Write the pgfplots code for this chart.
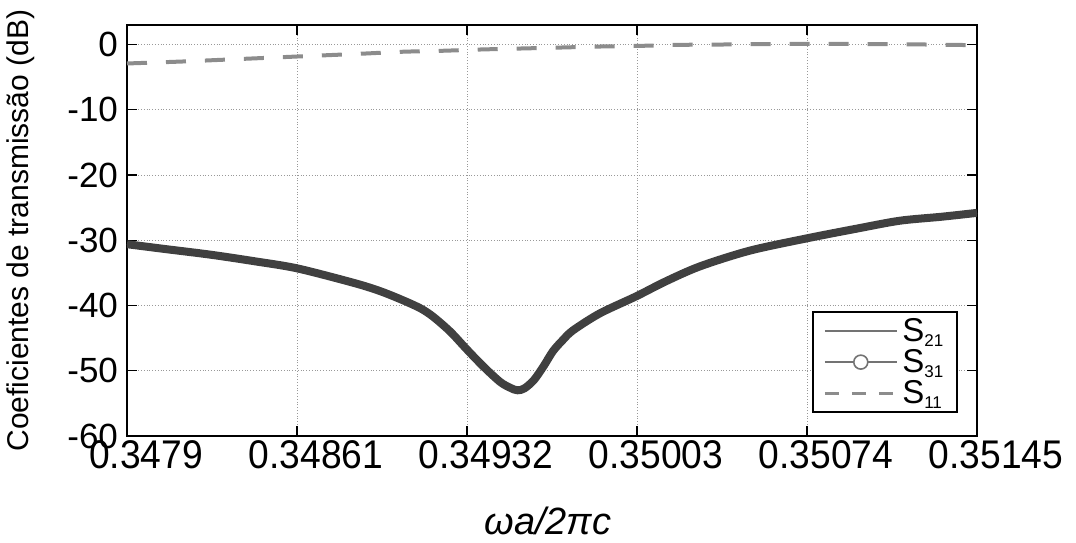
\documentclass[border=0pt]{standalone}
\usepackage{pgfplots}
\pgfplotsset{compat=1.18}
\usepackage{fontspec}
\setmainfont{Liberation Sans}
\newfontfamily\xtickfont[FakeStretch=0.93]{Liberation Sans}

\definecolor{curvecol}{gray}{0.25}
\definecolor{legcol}{gray}{0.45}
\definecolor{s11col}{gray}{0.55}

\newcommand{\sub}[1]{\raisebox{-0.3ex}{\fontsize{8.5}{9}\selectfont #1}}

\pgfplotstableread{
x y
0.347900 -30.6
0.348050 -31.3
0.348247 -32.2
0.348430 -33.2
0.348610 -34.3
0.348844 -36.5
0.348950 -37.7
0.349040 -39.0
0.349124 -40.4
0.349178 -41.7
0.349250 -44.0
0.349316 -46.6
0.349387 -49.3
0.349458 -51.7
0.349500 -52.6
0.349530 -53.0
0.349560 -52.7
0.349600 -51.4
0.349640 -49.3
0.349679 -47.0
0.349720 -45.3
0.349763 -43.8
0.349875 -41.2
0.350026 -38.6
0.350150 -36.3
0.350293 -34.0
0.350500 -31.6
0.350740 -29.7
0.350950 -28.2
0.351128 -27.0
0.351300 -26.4
0.351450 -25.8
}\stwoone

\pgfplotstableread{
x y
0.347900 -2.9
0.348130 -2.6
0.348318 -2.3
0.348506 -2.0
0.348693 -1.7
0.348881 -1.4
0.349053 -1.1
0.349220 -0.95
0.349383 -0.75
0.349550 -0.6
0.349717 -0.45
0.349875 -0.3
0.350042 -0.2
0.350201 -0.05
0.350364 0.0
0.350710 0.1
0.351128 0.05
0.351450 -0.1
}\soneone

\begin{document}
\begin{tikzpicture}
\begin{axis}[
    scale only axis,
    width=425pt, height=205.5pt,
    xmin=0.3479, xmax=0.35145,
    ymin=-60, ymax=3,
    xtick={0.3479,0.34861,0.34932,0.35003,0.35074,0.35145},
    xticklabels={0.3479,0.34861,0.34932,0.35003,0.35074,0.35145},
    ytick={-60,-50,-40,-30,-20,-10,0},
    yticklabels={-60,-50,-40,-30,-20,-10,0},
    scaled x ticks=false,
    tick align=inside,
    major tick length=5pt,
    tick style={black, line width=0.6pt},
    axis line style={black, line width=0.8pt},
    yticklabel style={font=\fontsize{17.5}{19}\selectfont, xshift=-1pt},
    xticklabel style={font=\xtickfont\fontsize{20}{22}\selectfont, yshift=1pt, xshift=9.5pt},
    xmajorgrids, ymajorgrids,
    grid style={densely dotted, gray!80, line width=0.5pt},
    xlabel={\textit{ωa/2πc}},
    xlabel style={font=\fontsize{19}{21}\selectfont, at={(axis description cs:0.5,0)}, anchor=base, yshift=-49.5pt, xshift=-2pt},
    ylabel={Coeficientes de transmissão (dB)},
    ylabel style={font=\fontsize{15}{17}\selectfont, at={([xshift=-53pt]axis description cs:0,0.5)}, anchor=center},
    legend style={
        at={(axis description cs:1,0)}, anchor=south east,
        xshift=-9.5pt, yshift=11.5pt,
        draw=black, line width=0.8pt, fill=white,
        font=\fontsize{16.5}{17}\selectfont,
        row sep=-1.5pt, inner xsep=5pt, inner ysep=1pt,
        cells={anchor=west},
    },
]
\addplot[color=legcol, line width=1pt, smooth, tension=0.5,
    legend image code/.code={\draw[legcol, line width=0.8pt] (0pt,0pt) -- (36pt,0pt);}]
    table[x=x, y=y] {\stwoone};
\addlegendentry{S\sub{21}\hspace{3pt}}

\addplot[color=curvecol, line width=4pt, line join=round, smooth, tension=0.5,
    legend image code/.code={
        \draw[legcol, line width=0.8pt] (0pt,0pt) -- (36pt,0pt);
        \draw[legcol, line width=0.8pt, fill=white] (18pt,0pt) circle (3.5pt);}]
    table[x=x, y=y] {\stwoone};
\addlegendentry{S\sub{31}\hspace{3pt}}

\addplot[color=s11col, line width=2pt, dash pattern=on 10pt off 9.5pt, smooth, tension=0.5,
    legend image code/.code={\draw[s11col, line width=1.5pt, dash pattern=on 7pt off 6.5pt] (0pt,0pt) -- (36pt,0pt);}]
    table[x=x, y=y] {\soneone};
\addlegendentry{S\sub{11}\hspace{3pt}}
\end{axis}
\pgfresetboundingbox
\path[use as bounding box] ([shift={(-63.5pt,-53.5pt)}]current axis.south west) rectangle ([shift={(49.5pt,12.5pt)}]current axis.north east);
\end{tikzpicture}
\end{document}
